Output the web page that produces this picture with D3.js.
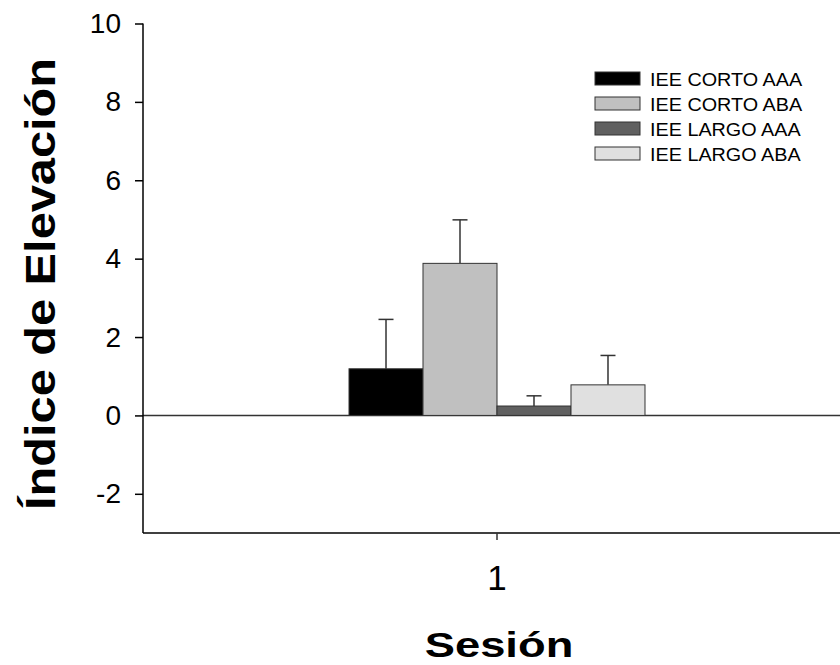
<!DOCTYPE html>
<html>
<head>
<meta charset="utf-8">
<script src="https://cdn.jsdelivr.net/npm/d3@7"></script>
<style>
  html, body { margin: 0; padding: 0; background: #fff; }
  svg { display: block; font-family: Arial, "Liberation Sans", sans-serif; }
</style>
</head>
<body>
<svg id="chart" width="840" height="665"></svg>
<script>
// ---- data ----
const categories = ["1"];
const seriesNames = ["IEE CORTO AAA", "IEE CORTO ABA", "IEE LARGO AAA", "IEE LARGO ABA"];
const seriesValues = [1.19, 3.88, 0.24, 0.78];
const seriesErrors = [1.26, 1.11, 0.26, 0.75];
const seriesColors = ["#000000", "#c0c0c0", "#606060", "#e0e0e0"];
const yTicks = [-2, 0, 2, 4, 6, 8, 10];
const yTitle = "Índice de Elevación";
const xTitle = "Sesión";

// ---- layout ----
const svg = d3.select("#chart");
const plotLeft = 143, plotRight = 851, plotTop = 23.5, plotBottom = 533;

const y = d3.scaleLinear().domain([-3, 10]).range([plotBottom, plotTop]);
const x = d3.scaleBand().domain(categories).range([plotLeft, plotRight])
  .paddingInner(0).paddingOuter(0.696);
const xs = d3.scaleBand().domain(seriesNames).range([0, x.bandwidth()]);

const data = seriesNames.map((s, i) => ({
  cat: categories[0], name: s, v: seriesValues[i], e: seriesErrors[i], c: seriesColors[i]
}));

// zero line
svg.append("line")
  .attr("x1", plotLeft).attr("x2", plotRight)
  .attr("y1", y(0)).attr("y2", y(0))
  .attr("stroke", "#333").attr("stroke-width", 1.5);

// error bars
const eg = svg.append("g");
data.forEach(d => {
  const cx = x(d.cat) + xs(d.name) + xs.bandwidth() / 2;
  eg.append("line")
    .attr("x1", cx).attr("x2", cx)
    .attr("y1", y(d.v)).attr("y2", y(d.v + d.e))
    .attr("stroke", "#333").attr("stroke-width", 1.5);
  eg.append("line")
    .attr("x1", cx - 7.5).attr("x2", cx + 7.5)
    .attr("y1", y(d.v + d.e)).attr("y2", y(d.v + d.e))
    .attr("stroke", "#333").attr("stroke-width", 1.5);
});

// bars
svg.append("g").selectAll("rect").data(data).join("rect")
  .attr("x", d => x(d.cat) + xs(d.name))
  .attr("width", xs.bandwidth())
  .attr("y", d => y(Math.max(0, d.v)))
  .attr("height", d => Math.abs(y(d.v) - y(0)))
  .attr("fill", d => d.c)
  .attr("stroke", "#333").attr("stroke-width", 1);

// y axis
const yAxis = svg.append("g")
  .attr("transform", `translate(${plotLeft},0)`)
  .call(d3.axisLeft(y).tickValues(yTicks).tickSize(8).tickPadding(14).tickSizeOuter(0)
    .tickFormat(d => String(d)));
yAxis.select(".domain").remove();
yAxis.append("line").attr("x1", 0).attr("x2", 0)
  .attr("y1", y(10)).attr("y2", plotBottom)
  .attr("stroke", "#000").attr("stroke-width", 1.5);
yAxis.selectAll(".tick line").attr("stroke", "#000").attr("stroke-width", 1.5);
yAxis.selectAll(".tick text").attr("font-size", 28).attr("fill", "#000")
  .attr("font-family", "Arial, 'Liberation Sans', sans-serif");

// x axis
const xAxis = svg.append("g")
  .attr("transform", `translate(0,${plotBottom})`)
  .call(d3.axisBottom(x).tickSize(7).tickPadding(25).tickSizeOuter(0));
xAxis.select(".domain").attr("stroke", "#000").attr("stroke-width", 1.5)
  .attr("d", `M${plotLeft},0H${plotRight}`);
xAxis.selectAll(".tick line").attr("stroke", "#333").attr("stroke-width", 1.5);
xAxis.selectAll(".tick text").attr("font-size", 35).attr("fill", "#000")
  .attr("font-family", "Arial, 'Liberation Sans', sans-serif");

// titles
svg.append("text")
  .attr("transform", "translate(55,284) rotate(-90) scale(1.16,1)")
  .attr("text-anchor", "middle")
  .attr("font-size", 42).attr("font-weight", "bold").attr("fill", "#000")
  .text(yTitle);
svg.append("text")
  .attr("transform", "translate(499,657) scale(1.26,1)")
  .attr("text-anchor", "middle")
  .attr("font-size", 36).attr("font-weight", "bold").attr("fill", "#000")
  .text(xTitle);

// legend
const lg = svg.append("g").attr("transform", "translate(595,72)");
seriesNames.forEach((s, i) => {
  const g = lg.append("g").attr("transform", `translate(0,${i * 25})`);
  g.append("rect").attr("width", 45).attr("height", 13)
    .attr("fill", seriesColors[i]).attr("stroke", "#333").attr("stroke-width", 1);
  g.append("text")
    .attr("transform", "translate(55,13.5) scale(1.1,1)")
    .attr("font-size", 18).attr("fill", "#000")
    .text(s);
});
</script>
</body>
</html>
